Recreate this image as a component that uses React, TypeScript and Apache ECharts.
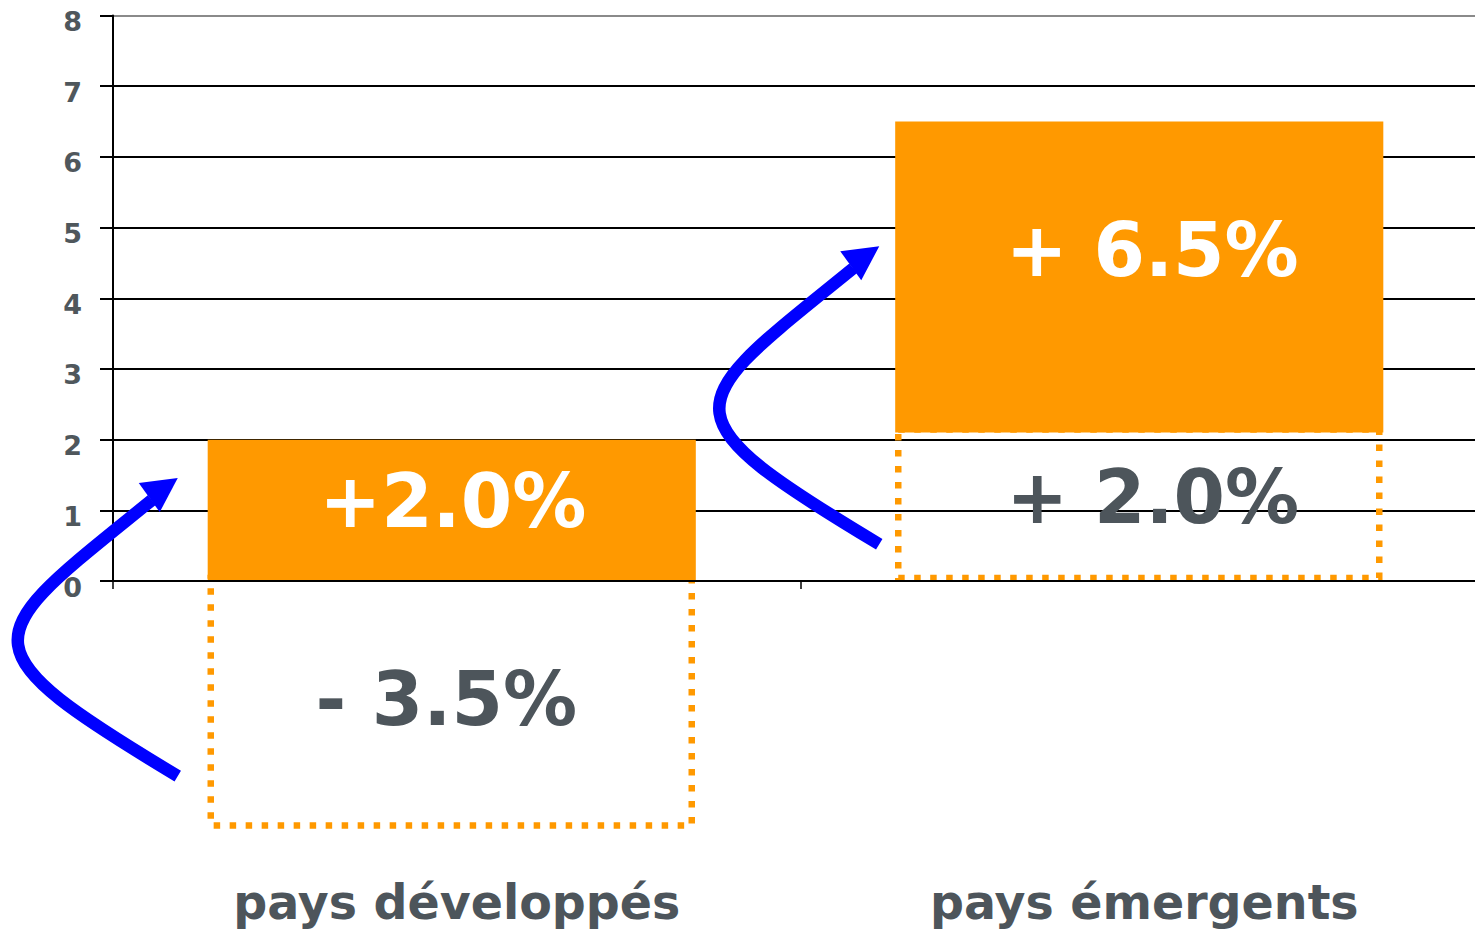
import React, { useEffect, useRef } from "react";
import * as echarts from "echarts";

// ---------- data ----------
const categories = ["pays développés", "pays émergents"];
const growthBase = [0, 2.1];
const growthTop = [2.0, 6.5];
const growthLabels = ["+2.0%", "+ 6.5%"];
const changeFrom = [0, 0];
const changeTo = [-3.5, 2.1];
const changeLabels = ["- 3.5%", "+ 2.0%"];
const arrowTailValue = [-2.76, 0.52];
const yMin = 0;
const yMax = 8;
const yStep = 1;

// ---------- styles ----------
const ORANGE = "#FF9900";
const TEXT_GRAY = "#4D555B";
const FONT = "'DejaVu Sans', Verdana, sans-serif";
const BAR_RATIO = 0.71;
const BAR_DX = -5;
const BOX_W = 481;
const BOX_DX = -5.5;
const BOX_DY = -3;
const GROWTH_LABEL_OFFSET = [
  [1, -9],
  [13, -27],
];
const CHANGE_LABEL_OFFSET = [
  [-5, -6],
  [14, -10],
];
const ARROW_DX = [-279, -265];
// arrow geometry relative to its tail (px)
const ARROW = {
  p1: [-222, -133],
  p2: [-196, -138],
  p3: [-26, -276],
  tip: [0, -298],
  a: [-39, -293],
  b: [-18, -264],
};

export default function App() {
  const ref = useRef<HTMLDivElement>(null);

  useEffect(() => {
    if (!ref.current) return;
    const chart = echarts.init(ref.current, null, { renderer: "svg" });

    const growthData = categories.map((_, i) => [i, growthBase[i], growthTop[i]]);
    const changeData = categories.map((_, i) => [i, changeFrom[i], changeTo[i]]);
    const arrowData = categories.map((_, i) => [i, arrowTailValue[i]]);

    const splitColors = [];
    for (let v = yMin; v <= yMax; v += yStep) splitColors.push(v === yMax ? "#8A8A8A" : "#000000");

    const pctStyle = {
      fontSize: 74,
      fontWeight: "bold",
      fontFamily: FONT,
      align: "center",
      verticalAlign: "middle",
    };

    const option: any = {
      animation: false,
      grid: { left: 113, right: 12, top: 15.5, bottom: 349, containLabel: false },
      xAxis: {
        type: "category",
        data: categories,
        z: 10,
        boundaryGap: true,
        axisLine: { show: true, lineStyle: { color: "#000", width: 2 } },
        axisTick: { show: true, length: 8, lineStyle: { color: "#000", width: 1.5 } },
        axisLabel: {
          margin: 321,
          fontSize: 47.5,
          fontWeight: "bold",
          fontFamily: FONT,
          color: TEXT_GRAY,
          verticalAlign: "middle",
        },
        splitLine: { show: false },
      },
      yAxis: {
        type: "value",
        min: yMin,
        max: yMax,
        interval: yStep,
        axisLine: { show: true, lineStyle: { color: "#000", width: 2 } },
        axisTick: { show: true, length: 13, lineStyle: { color: "#000", width: 2 } },
        axisLabel: {
          margin: 31,
          fontSize: 27,
          fontWeight: "bold",
          fontFamily: FONT,
          color: "#4F575C",
          verticalAlign: "top",
          lineHeight: 12,
        },
        splitLine: { show: true, lineStyle: { color: splitColors, width: 2 } },
      },
      series: [
        {
          type: "custom",
          z: 2,
          clip: false,
          encode: { x: 0, y: [1, 2] },
          data: changeData,
          renderItem: (params: any, api: any) => {
            const i = api.value(0);
            const p0 = api.coord([i, api.value(1)]);
            const p1 = api.coord([i, api.value(2)]);
            const cx = p0[0] + BOX_DX;
            const top = Math.min(p0[1], p1[1]) + BOX_DY;
            const h = Math.abs(p0[1] - p1[1]);
            const [odx, ody] = CHANGE_LABEL_OFFSET[params.dataIndex];
            return {
              type: "group",
              children: [
                {
                  type: "rect",
                  shape: { x: cx - BOX_W / 2, y: top, width: BOX_W, height: h },
                  style: {
                    fill: "none",
                    stroke: ORANGE,
                    lineWidth: 6.5,
                    lineDash: [6.5, 9.5],
                    lineCap: "butt",
                  },
                },
                {
                  type: "text",
                  x: cx + odx,
                  y: (p0[1] + p1[1]) / 2 + ody,
                  z2: 5,
                  style: { ...pctStyle, text: changeLabels[params.dataIndex], fill: TEXT_GRAY },
                },
              ],
            };
          },
        },
        {
          type: "custom",
          z: 3,
          clip: false,
          encode: { x: 0, y: [1, 2] },
          data: growthData,
          renderItem: (params: any, api: any) => {
            const i = api.value(0);
            const p0 = api.coord([i, api.value(1)]);
            const p1 = api.coord([i, api.value(2)]);
            const bw = api.size([1, 0])[0] * BAR_RATIO;
            const cx = p0[0] + BAR_DX;
            const [odx, ody] = GROWTH_LABEL_OFFSET[params.dataIndex];
            return {
              type: "group",
              children: [
                {
                  type: "rect",
                  shape: { x: cx - bw / 2, y: p1[1], width: bw, height: p0[1] - p1[1] },
                  style: { fill: ORANGE },
                },
                {
                  type: "text",
                  x: cx + odx,
                  y: (p0[1] + p1[1]) / 2 + ody,
                  z2: 5,
                  style: { ...pctStyle, text: growthLabels[params.dataIndex], fill: "#FFFFFF" },
                },
              ],
            };
          },
        },
        {
          type: "custom",
          z: 4,
          clip: false,
          encode: { x: 0, y: 1 },
          data: arrowData,
          renderItem: (params: any, api: any) => {
            const c = api.coord([api.value(0), api.value(1)]);
            const x = c[0] + ARROW_DX[params.dataIndex];
            const y = c[1];
            const A = ARROW;
            return {
              type: "group",
              children: [
                {
                  type: "bezierCurve",
                  shape: {
                    x1: x,
                    y1: y,
                    cpx1: x + A.p1[0],
                    cpy1: y + A.p1[1],
                    cpx2: x + A.p2[0],
                    cpy2: y + A.p2[1],
                    x2: x + A.p3[0],
                    y2: y + A.p3[1],
                  },
                  style: { fill: "none", stroke: "#0000FF", lineWidth: 12.5, lineCap: "butt" },
                },
                {
                  type: "polygon",
                  shape: {
                    points: [
                      [x + A.tip[0], y + A.tip[1]],
                      [x + A.a[0], y + A.a[1]],
                      [x + A.b[0], y + A.b[1]],
                    ],
                  },
                  style: { fill: "#0000FF", stroke: "none" },
                },
              ],
            };
          },
        },
      ],
    };

    chart.setOption(option);
    return () => chart.dispose();
  }, []);

  return (
    <div
      ref={ref}
      style={{ position: "fixed", left: 0, top: 0, width: 1500, height: 930, background: "#fff" }}
    />
  );
}
